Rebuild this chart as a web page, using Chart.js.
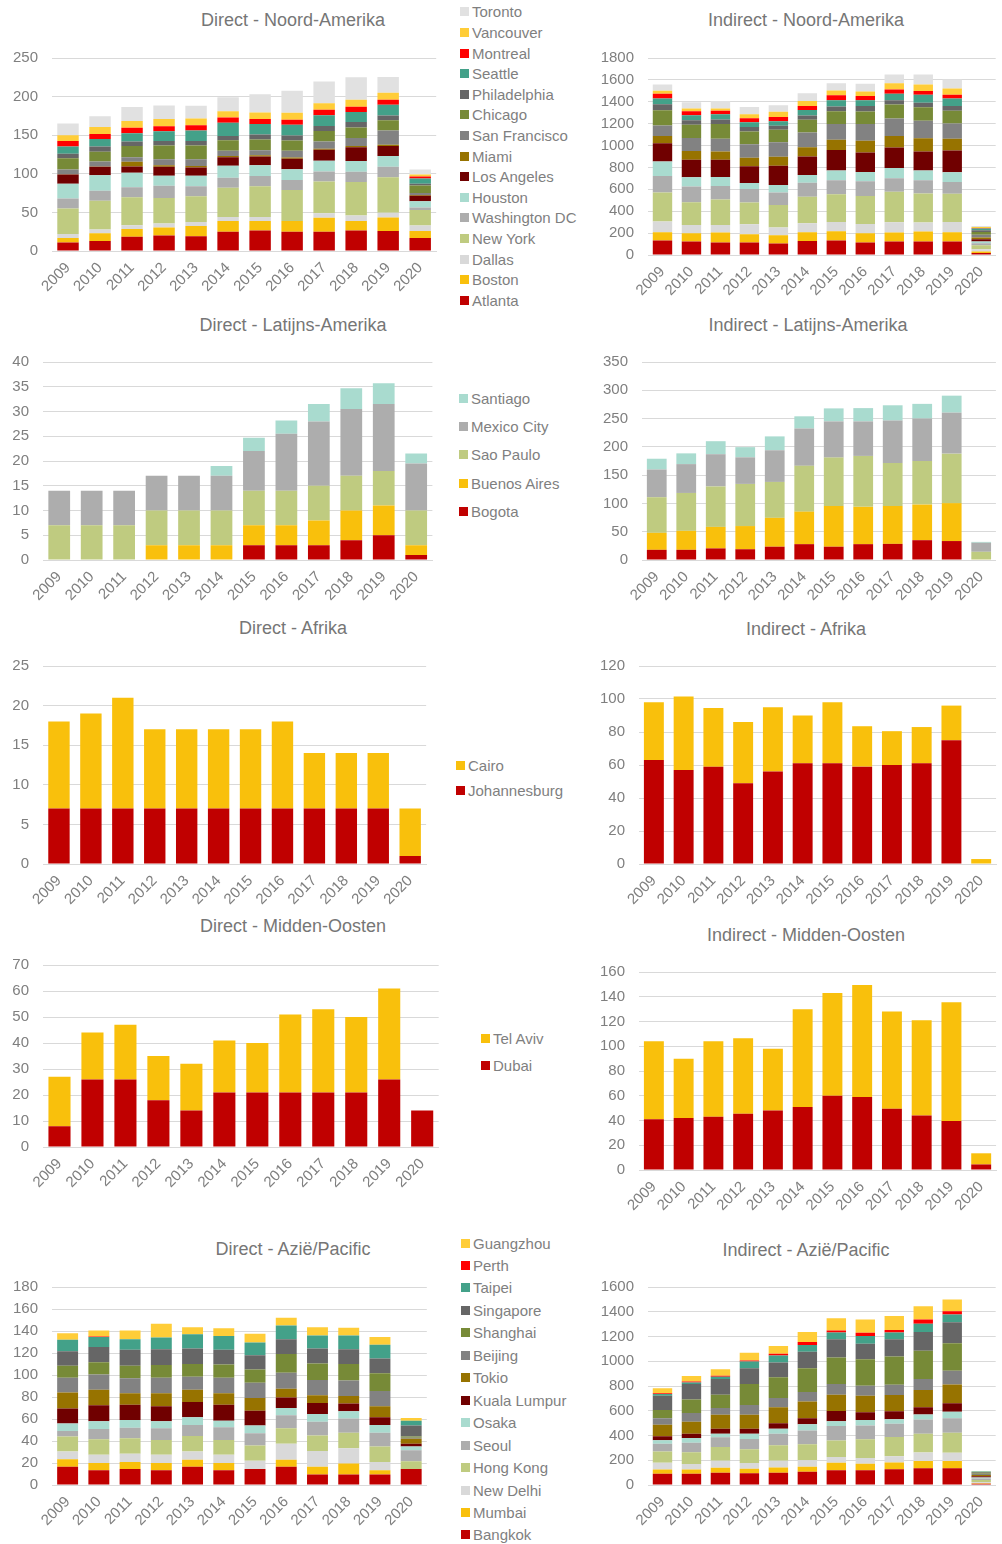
<!DOCTYPE html>
<html lang="nl">
<head>
<meta charset="UTF-8">
<title>Vluchten per regio</title>
<script src="https://cdn.jsdelivr.net/npm/chart.js@4.4.1/dist/chart.umd.min.js"></script>
<style>
  * { margin: 0; padding: 0; box-sizing: border-box; }
  body {
    width: 1002px;
    height: 1544px;
    position: relative;
    background: #fff;
    overflow: hidden;
    font-family: 'Liberation Sans', Arial, sans-serif;
  }
  canvas { position: absolute; }
  .title {
    position: absolute;
    transform: translateX(-50%);
    font-size: 18px;
    line-height: 22px;
    color: #767676;
    white-space: nowrap;
  }
  .legend {
    position: absolute;
    font-size: 15px;
    color: #7f7f7f;
  }
  .legend div {
    display: flex;
    align-items: center;
    white-space: nowrap;
  }
  .legend .sw {
    display: inline-block;
    width: 9px;
    height: 9px;
    margin-right: 3px;
  }
</style>
</head>
<body>
<script>
const years = ['2009', '2010', '2011', '2012', '2013', '2014', '2015', '2016', '2017', '2018', '2019', '2020'];

// Noord-Amerika, stacked from bottom to top
const naCities = ['Atlanta', 'Boston', 'Dallas', 'New York', 'Washington DC', 'Houston', 'Los Angeles',
  'Miami', 'San Francisco', 'Chicago', 'Philadelphia', 'Seattle', 'Montreal', 'Vancouver', 'Toronto'];
const naDirect = [
  [11, 13, 18.5, 20, 19, 25, 26.5, 25, 25, 26.5, 26, 17],
  [6, 10, 10, 10.5, 13.5, 14, 12.5, 14, 18, 12.5, 17.5, 9],
  [5, 5, 5, 5, 5, 5, 5, 0, 6, 7, 6, 7],
  [33, 37, 36, 33, 33.5, 38, 40, 40, 41, 43.5, 46, 20],
  [13, 13, 13, 16, 13, 13, 13, 13, 13, 13, 13.5, 3.5],
  [19, 20, 19, 13, 13.5, 15.5, 14, 14, 14, 14, 14, 8],
  [12, 11, 8, 11.5, 10.5, 11, 11.5, 13.5, 14, 18, 13, 7],
  [0.5, 0.5, 6, 2, 2, 1.5, 1.5, 1.5, 1.5, 1.5, 1.5, 1],
  [6, 6.5, 6, 8, 9, 7, 6.5, 9, 9.5, 10.5, 18.5, 2.5],
  [14.5, 12.5, 14.5, 17.5, 17.5, 13.5, 14, 13, 13.5, 13.5, 13.5, 10],
  [6, 7, 6, 6, 6, 5.5, 6.5, 6.5, 6.5, 7, 6, 2],
  [9.5, 9.5, 10.5, 12.5, 13.5, 17, 13.5, 14, 14, 13, 14, 7],
  [7, 6.5, 7, 6.5, 7, 7, 6.5, 6.5, 7, 7, 6.5, 2.5],
  [7.5, 9, 9, 9.5, 8.5, 8, 8.5, 9, 8.5, 9, 9, 2.5],
  [15, 14, 18, 17.5, 16.5, 18, 23.5, 28.5, 28, 29, 20.5, 6.5]
];
const naIndirect = [
  [133, 124, 115, 115, 106, 127, 133, 115, 124, 124, 124, 18],
  [75, 75, 90, 75, 75, 81, 84, 84, 81, 90, 84, 15],
  [97, 76, 70, 91, 70, 82, 85, 85, 94, 82, 94, 20],
  [266, 208, 232, 199, 205, 242, 254, 254, 278, 266, 257, 35],
  [151, 142, 124, 124, 115, 129, 127, 135, 124, 121, 108, 20],
  [133, 85, 82, 54, 69, 70, 90, 85, 93, 90, 88, 15],
  [166, 160, 157, 154, 175, 169, 187, 178, 188, 172, 199, 20],
  [66, 81, 75, 76, 82, 85, 94, 109, 105, 121, 109, 18],
  [97, 118, 118, 124, 133, 135, 142, 151, 160, 160, 139, 25],
  [139, 121, 133, 117, 115, 115, 118, 115, 127, 124, 115, 25],
  [54, 42, 42, 40, 36, 39, 42, 51, 39, 42, 45, 15],
  [54, 45, 49, 45, 42, 52, 57, 51, 61, 73, 69, 15],
  [43, 37, 30, 36, 39, 36, 46, 40, 39, 33, 34, 5],
  [27, 24, 21, 37, 46, 45, 45, 42, 57, 60, 57, 10],
  [57, 57, 69, 66, 60, 70, 66, 69, 79, 91, 82, 9]
];

// Latijns-Amerika
const laCities = ['Bogota', 'Buenos Aires', 'Sao Paulo', 'Mexico City', 'Santiago'];
const laDirect = [
  [0, 0, 0, 0, 0, 0, 3, 3, 3, 4, 5, 1],
  [0, 0, 0, 3, 3, 3, 4, 4, 5, 6, 6, 2],
  [7, 7, 7, 7, 7, 7, 7, 7, 7, 7, 7, 7],
  [7, 7, 7, 7, 7, 7, 8, 11.5, 13, 13.5, 13.5, 9.5],
  [0, 0, 0, 0, 0, 2, 2.7, 2.7, 3.5, 4.2, 4.2, 2]
];
const laIndirect = [
  [18, 18, 20.5, 19, 23.5, 28, 23.5, 28, 28.5, 35, 33.5, 0],
  [30, 33.5, 38, 41, 51, 57.5, 72, 66, 67, 63, 67, 1],
  [63, 67, 71.5, 74.5, 63.5, 81, 85.5, 90, 76, 77, 87.5, 13.5],
  [49, 51, 57, 47, 56, 66, 64, 61, 75, 75, 72.5, 16],
  [19, 19, 23, 18, 24.5, 21.5, 23, 23.5, 27, 26, 30, 1.5]
];

// Afrika
const afCities = ['Johannesburg', 'Cairo'];
const afDirect = [
  [7, 7, 7, 7, 7, 7, 7, 7, 7, 7, 7, 1],
  [11, 12, 14, 10, 10, 10, 10, 11, 7, 7, 7, 6]
];
const afIndirect = [
  [63, 57, 59, 49, 56, 61, 61, 59, 60, 61, 75, 0],
  [35, 44.5, 35.5, 37, 39, 29, 37, 24.5, 20.5, 22, 21, 3]
];

// Midden-Oosten
const meCities = ['Dubai', 'Tel Aviv'];
const meDirect = [
  [8, 26, 26, 18, 14, 21, 21, 21, 21, 21, 26, 14],
  [19, 18, 21, 17, 18, 20, 19, 30, 32, 29, 35, 0]
];
const meIndirect = [
  [41, 42, 43, 45.5, 48, 51, 60, 59, 49.5, 44, 39.5, 4.5],
  [63, 48, 61, 61, 50, 79, 83, 90.5, 78.5, 77, 96, 9]
];

// Azië/Pacific
const asCities = ['Bangkok', 'Mumbai', 'New Delhi', 'Hong Kong', 'Seoul', 'Osaka', 'Kuala Lumpur',
  'Tokio', 'Beijing', 'Shanghai', 'Singapore', 'Taipei', 'Perth', 'Guangzhou'];
const asDirect = [
  [16.5, 13.5, 14.5, 13.5, 16.5, 13.5, 14.5, 16.5, 9.5, 9.5, 9.5, 14.5],
  [7, 6.5, 6.5, 6.5, 6.5, 6.5, 0, 6.5, 7, 10, 4, 0],
  [7, 7.5, 7.5, 7.5, 7.5, 7.5, 7.5, 14.5, 14.5, 14, 7.5, 0],
  [13.5, 14, 14, 13.5, 14, 13.5, 14, 14, 14, 14, 14, 7],
  [5, 9.5, 9.5, 10.5, 10, 11.5, 11, 12, 12.5, 13, 12.5, 10],
  [7, 7, 7, 6.5, 7, 6, 7, 6.5, 7, 6.5, 7, 3.5],
  [13.5, 14.5, 14, 13.5, 14, 14.5, 13.5, 9.5, 10, 7, 7, 2.5],
  [14.5, 14, 10.5, 12, 11, 10.5, 11.5, 8, 7, 7, 10, 4.5],
  [13.5, 14, 13.5, 14, 12, 14, 14, 14.5, 14, 14, 14, 1],
  [11, 11, 11.5, 11.5, 11.5, 12, 12, 17, 15, 15, 16, 1],
  [13, 14, 14.5, 14.5, 14, 13.5, 13, 13.5, 13.5, 13.5, 13.5, 10],
  [10.5, 9, 9.5, 10.5, 13, 12.5, 11.5, 12.5, 12, 12.5, 12.5, 4.5],
  [0, 0.5, 0, 0, 0, 0, 0, 0, 0, 0, 0, 0],
  [6, 5.5, 8, 12.5, 6.5, 7, 8, 7, 7.5, 7, 7, 2.5]
];
const asIndirect = [
  [91, 91, 99, 94, 99, 107, 120, 120, 128, 136, 136, 10],
  [35, 35, 40, 37, 43, 40, 59, 51, 54, 57, 57, 5],
  [53, 43, 56, 46, 53, 54, 48, 48, 51, 69, 67, 10],
  [91, 96, 113, 112, 126, 128, 132, 150, 155, 153, 163, 15],
  [64, 77, 77, 83, 94, 112, 117, 112, 107, 115, 117, 12],
  [27, 38, 30, 43, 40, 49, 40, 45, 37, 40, 51, 8],
  [32, 35, 40, 40, 45, 50, 81, 62, 64, 59, 70, 10],
  [94, 96, 112, 112, 129, 134, 133, 134, 132, 139, 152, 10],
  [53, 70, 56, 80, 75, 78, 86, 80, 83, 88, 110, 10],
  [67, 109, 107, 169, 166, 192, 214, 214, 227, 228, 222, 8],
  [115, 126, 126, 128, 120, 132, 147, 126, 139, 152, 171, 8],
  [14, 13, 19, 54, 56, 56, 56, 62, 56, 67, 62, 4],
  [5, 8, 8, 8, 14, 24, 16, 27, 19, 35, 27, 0],
  [40, 43, 53, 62, 64, 80, 99, 107, 113, 107, 93, 2]
];

const cityColors = {
  'Atlanta': '#c00000', 'Boston': '#f9c00c', 'Dallas': '#d9d9d9', 'New York': '#bfcb80',
  'Washington DC': '#adadad', 'Houston': '#a9dbcf', 'Los Angeles': '#700000', 'Miami': '#977300',
  'San Francisco': '#828282', 'Chicago': '#778a37', 'Philadelphia': '#666666', 'Seattle': '#43a189',
  'Montreal': '#ff0000', 'Vancouver': '#ffcd38', 'Toronto': '#e1e1e1',
  'Bogota': '#c00000', 'Buenos Aires': '#f9c00c', 'Sao Paulo': '#bfcb80', 'Mexico City': '#adadad', 'Santiago': '#a9dbcf',
  'Johannesburg': '#c00000', 'Cairo': '#f9c00c', 'Dubai': '#c00000', 'Tel Aviv': '#f9c00c',
  'Bangkok': '#c00000', 'Mumbai': '#f9c00c', 'New Delhi': '#d9d9d9', 'Hong Kong': '#bfcb80',
  'Seoul': '#adadad', 'Osaka': '#a9dbcf', 'Kuala Lumpur': '#700000', 'Tokio': '#977300',
  'Beijing': '#828282', 'Shanghai': '#778a37', 'Singapore': '#666666', 'Taipei': '#43a189',
  'Perth': '#ff0000', 'Guangzhou': '#ffcd38'
};

const GRID = '#d9d9d9';
const TEXT = '#7f7f7f';
Chart.defaults.font.family = "'Liberation Sans', Arial, sans-serif";
Chart.defaults.font.size = 15;
Chart.defaults.color = TEXT;

// geometry: canvas left/top/width/height, y-axis width, title centre, legend spot
// (plot area starts ~22px below the canvas top because of the y tick padding)
const panels = [
  { title: 'Direct - Noord-Amerika', cities: naCities, values: naDirect, max: 250, step: 50,
    x: 0, y: 35, w: 441, h: 266, yw: 52, tx: 293, ty: 20, legend: { x: 460, y: 1.7, lh: 20.6 } },
  { title: 'Indirect - Noord-Amerika', cities: naCities, values: naIndirect, max: 1800, step: 200,
    x: 590, y: 35, w: 412, h: 270, yw: 58, tx: 806, ty: 20 },
  { title: 'Direct - Latijns-Amerika', cities: laCities, values: laDirect, max: 40, step: 5,
    x: 0, y: 339, w: 437, h: 271, yw: 43, tx: 293, ty: 325, legend: { x: 459, y: 384, lh: 28.3 } },
  { title: 'Indirect - Latijns-Amerika', cities: laCities, values: laIndirect, max: 350, step: 50,
    x: 590, y: 339, w: 412, h: 271, yw: 52, tx: 808, ty: 325 },
  { title: 'Direct - Afrika', cities: afCities, values: afDirect, max: 25, step: 5,
    x: 0, y: 643, w: 431, h: 271, yw: 43, tx: 293, ty: 628, legend: { x: 456, y: 752.5, lh: 25 } },
  { title: 'Indirect - Afrika', cities: afCities, values: afIndirect, max: 120, step: 20,
    x: 590, y: 643, w: 412, h: 271, yw: 49, tx: 806, ty: 629 },
  { title: 'Direct - Midden-Oosten', cities: meCities, values: meDirect, max: 70, step: 10,
    x: 0, y: 942, w: 443, h: 255, yw: 43, tx: 293, ty: 926, legend: { x: 481, y: 1024.5, lh: 27 } },
  { title: 'Indirect - Midden-Oosten', cities: meCities, values: meIndirect, max: 160, step: 20,
    x: 590, y: 949, w: 412, h: 271, yw: 49, tx: 806, ty: 935 },
  { title: 'Direct - Azië/Pacific', cities: asCities, values: asDirect, max: 180, step: 20,
    x: 0, y: 1264, w: 432, h: 271, yw: 52, tx: 293, ty: 1249, legend: { x: 461, y: 1231.8, lh: 22.46 } },
  { title: 'Indirect - Azië/Pacific', cities: asCities, values: asIndirect, max: 1600, step: 200,
    x: 590, y: 1264, w: 412, h: 271, yw: 58, tx: 806, ty: 1250 }
];

function buildLegend(chart, spot) {
  const items = Chart.defaults.plugins.legend.labels.generateLabels(chart).reverse();
  const box = document.createElement('div');
  box.className = 'legend';
  box.style.left = spot.x + 'px';
  box.style.top = spot.y + 'px';
  items.forEach(it => {
    const row = document.createElement('div');
    row.style.height = spot.lh + 'px';
    const sw = document.createElement('span');
    sw.className = 'sw';
    sw.style.background = it.fillStyle;
    row.appendChild(sw);
    row.appendChild(document.createTextNode(it.text));
    box.appendChild(row);
  });
  document.body.appendChild(box);
}

panels.forEach(p => {
  const canvas = document.createElement('canvas');
  canvas.width = p.w;
  canvas.height = p.h;
  canvas.style.left = p.x + 'px';
  canvas.style.top = p.y + 'px';
  canvas.style.width = p.w + 'px';
  canvas.style.height = p.h + 'px';
  document.body.appendChild(canvas);

  const t = document.createElement('div');
  t.className = 'title';
  t.textContent = p.title;
  t.style.left = p.tx + 'px';
  t.style.top = (p.ty - 11) + 'px';
  document.body.appendChild(t);

  const chart = new Chart(canvas, {
    type: 'bar',
    data: {
      labels: years,
      datasets: p.cities.map((c, i) => ({
        label: c,
        data: p.values[i],
        backgroundColor: cityColors[c],
        borderWidth: 0,
        barPercentage: 0.67,
        categoryPercentage: 1
      }))
    },
    options: {
      responsive: false,
      animation: false,
      layout: { padding: { top: 2, right: 2, left: 0, bottom: 0 } },
      plugins: {
        legend: { display: false },
        title: { display: false },
        tooltip: { enabled: false }
      },
      scales: {
        x: {
          stacked: true,
          grid: { display: false, drawTicks: false },
          border: { color: GRID, width: 1 },
          ticks: { autoSkip: false, minRotation: 45, maxRotation: 45, padding: 8, color: TEXT, font: { size: 15 } },
          afterFit(s) { s.height = 50; }
        },
        y: {
          stacked: true,
          min: 0,
          max: p.max,
          grid: { color: GRID, drawTicks: false },
          border: { display: false },
          ticks: {
            autoSkip: false, stepSize: p.step, padding: 14, color: TEXT, font: { size: 15 },
            callback: v => String(v)
          },
          afterFit(s) { s.width = p.yw; }
        }
      }
    }
  });

  if (p.legend) buildLegend(chart, p.legend);
});
</script>
</body>
</html>
